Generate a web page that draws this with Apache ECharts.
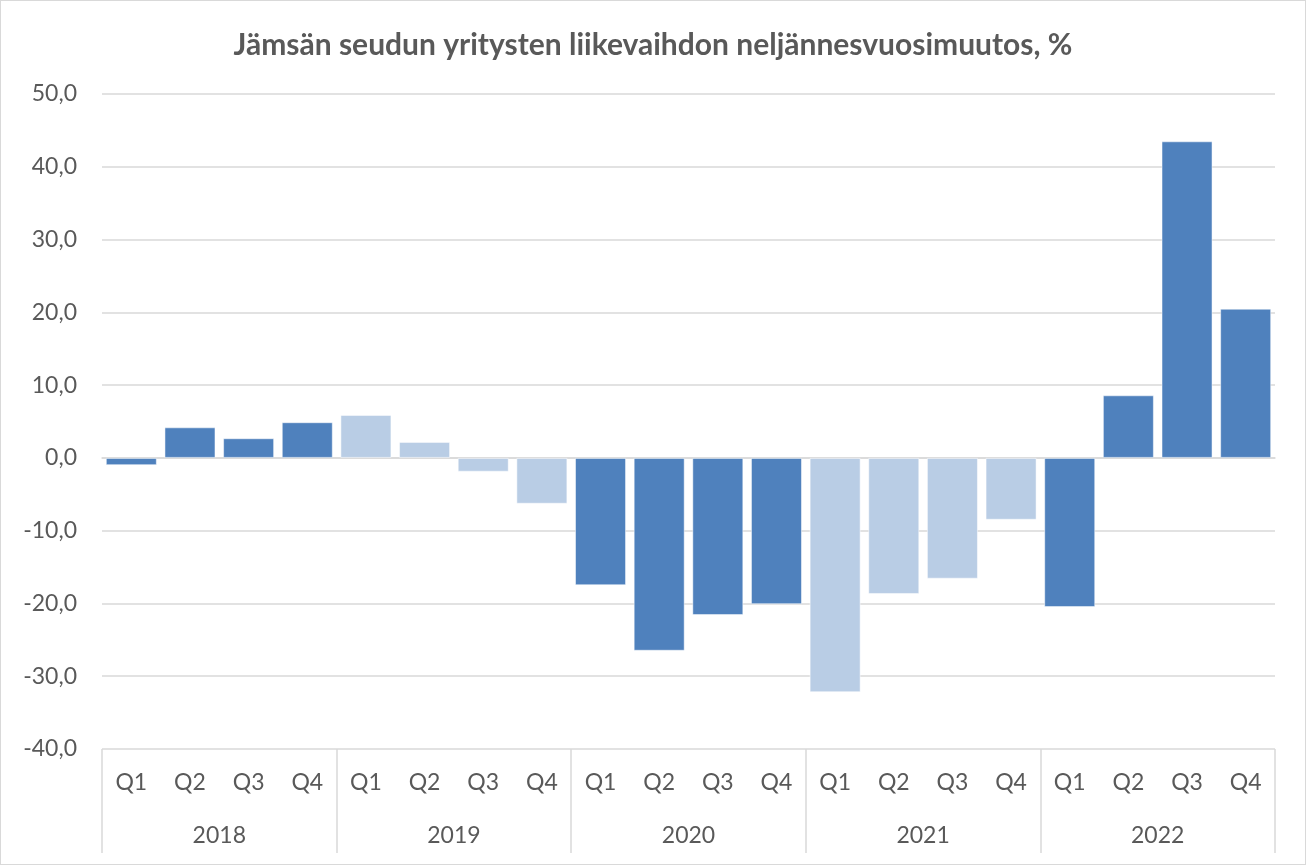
<!DOCTYPE html>
<html>
<head>
<meta charset="utf-8">
<script src="https://cdn.jsdelivr.net/npm/echarts@6/dist/echarts.min.js"></script>
<style>
  html, body { margin: 0; padding: 0; background: #fff; }
  #chart { width: 1304px; height: 863px; border: 1px solid #d9d9d9; }
</style>
</head>
<body>
<div id="chart"></div>
<script>
// quarterly change of turnover, %
const years = ['2018', '2019', '2020', '2021', '2022'];
const quarters = ['Q1', 'Q2', 'Q3', 'Q4'];
const values = [
  -1.0, 4.2, 2.7, 4.9,
  5.9, 2.2, -1.9, -6.3,
  -17.5, -26.5, -21.6, -20.1,
  -32.2, -18.7, -16.6, -8.5,
  -20.5, 8.6, 43.5, 20.5
];
const yearColors = ['#4F81BD', '#B9CDE5', '#4F81BD', '#B9CDE5', '#4F81BD'];

const FONT = 'Lato, "Noto Sans", sans-serif';
const TEXT = '#595959';
const GRID = '#d9d9d9';

const quarterCats = [];
years.forEach(y => quarters.forEach(q => quarterCats.push(q)));

const barData = values.map((v, i) => ({
  value: v,
  itemStyle: { color: yearColors[Math.floor(i / quarters.length)] }
}));

const chart = echarts.init(document.getElementById('chart'));
chart.setOption({
  animation: false,
  textStyle: { fontFamily: FONT },
  title: {
    text: 'Jämsän seudun yritysten liikevaihdon neljännesvuosimuutos, %',
    left: 'center',
    top: 24,
    textStyle: { fontFamily: FONT, fontSize: 30, fontWeight: 'bold', color: TEXT }
  },
  grid: { left: 101, right: 30, top: 93, bottom: 115 },
  xAxis: [
    {
      type: 'category',
      data: quarterCats,
      axisLine: { show: true, lineStyle: { color: GRID, width: 1.5 } },
      axisTick: { show: false },
      axisLabel: { color: TEXT, fontSize: 23, margin: 22, fontFamily: FONT }
    },
    {
      type: 'category',
      data: years,
      position: 'bottom',
      axisLine: { show: false },
      axisTick: { show: true, length: 104, lineStyle: { color: GRID, width: 1.5 } },
      axisLabel: { color: TEXT, fontSize: 23, margin: 75, fontFamily: FONT }
    }
  ],
  yAxis: {
    type: 'value',
    min: -40,
    max: 50,
    interval: 10,
    axisLine: { show: false },
    axisTick: { show: false },
    splitLine: { lineStyle: { color: GRID, width: 1.5 } },
    axisLabel: {
      color: TEXT,
      fontSize: 23,
      margin: 25,
      fontFamily: FONT,
      formatter: v => v.toFixed(1).replace('.', ',')
    }
  },
  series: [{
    type: 'bar',
    xAxisIndex: 0,
    data: barData,
    barCategoryGap: '13%',
    itemStyle: { borderColor: 'rgba(255,255,255,0.5)', borderWidth: 1 }
  }]
});
</script>
</body>
</html>
